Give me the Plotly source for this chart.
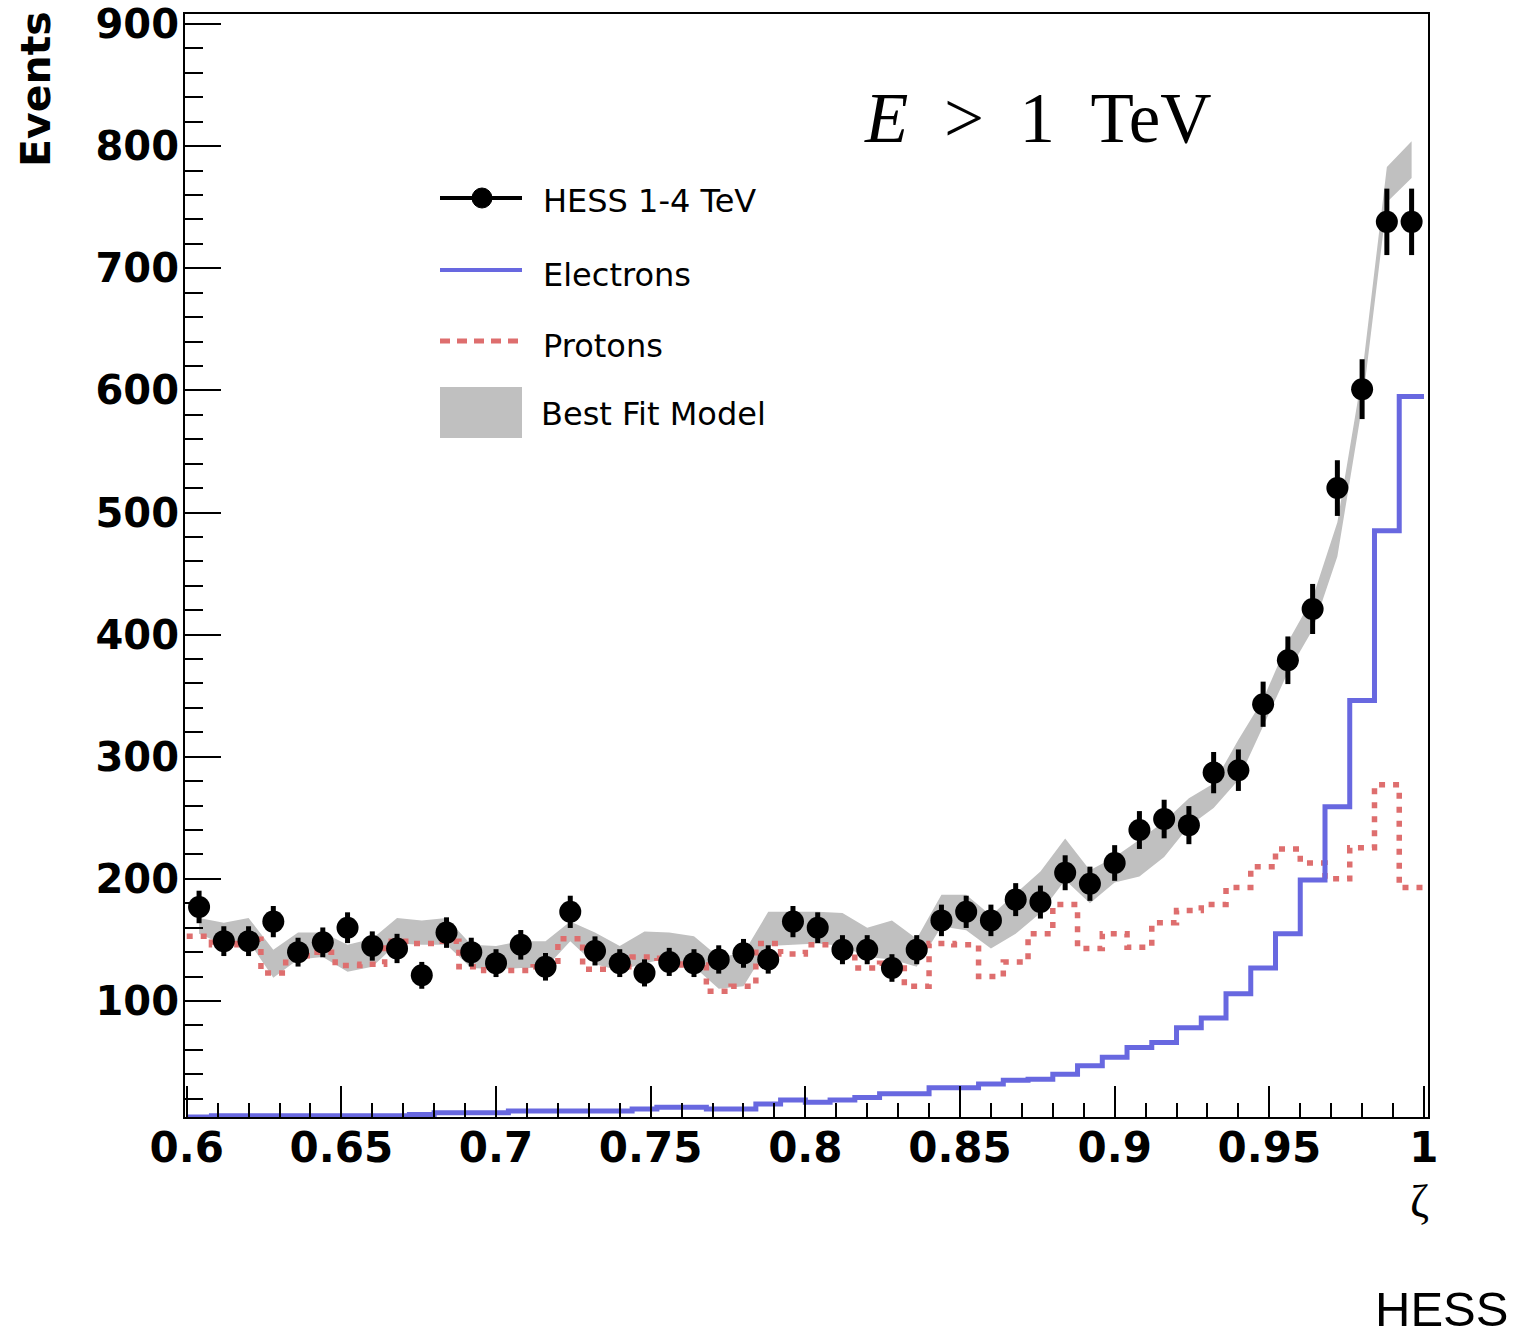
import plotly.graph_objects as go

# ---------------- data ----------------
zeta = [0.604, 0.612, 0.620, 0.628, 0.636, 0.644, 0.652, 0.660, 0.668, 0.676,
        0.684, 0.692, 0.700, 0.708, 0.716, 0.724, 0.732, 0.740, 0.748, 0.756,
        0.764, 0.772, 0.780, 0.788, 0.796, 0.804, 0.812, 0.820, 0.828, 0.836,
        0.844, 0.852, 0.860, 0.868, 0.876, 0.884, 0.892, 0.900, 0.908, 0.916,
        0.924, 0.932, 0.940, 0.948, 0.956, 0.964, 0.972, 0.980, 0.988, 0.996]

hess = [177, 149, 149, 165, 140, 148, 160, 145, 143, 121,
        156, 140, 131, 146, 128, 173, 141, 131, 123, 132,
        131, 134, 139, 134, 165, 160, 142, 142, 127, 142,
        166, 173, 166, 183, 181, 205, 196, 213, 240, 249,
        244, 287, 289, 343, 379, 421, 520, 601, 738, 738]

hess_err = [13.3, 12.2, 12.2, 12.8, 11.8, 12.2, 12.6, 12.0, 12.0, 11.0,
            12.5, 11.8, 11.4, 12.1, 11.3, 13.2, 11.9, 11.4, 11.1, 11.5,
            11.4, 11.6, 11.8, 11.6, 12.8, 12.6, 11.9, 11.9, 11.3, 11.9,
            12.9, 13.2, 12.9, 13.5, 13.5, 14.3, 14.0, 14.6, 15.5, 15.8,
            15.6, 16.9, 17.0, 18.5, 19.5, 20.5, 22.8, 24.5, 27.2, 27.2]

electrons = [5, 6, 6, 6, 6, 6, 6, 6, 6, 7,
             8.5, 8.5, 8.5, 10, 10, 10, 10, 10, 11.6, 13,
             13, 11.6, 11.6, 15.7, 19, 17, 19, 21, 24, 24,
             29, 29, 32, 35, 36, 40, 47, 54, 62, 66,
             78, 86, 106, 127, 155, 199, 259, 346, 485, 595]

protons = [153, 146, 150.5, 123, 137, 140, 129, 130, 149, 147,
           149, 128, 125, 125, 128, 151, 126, 128, 136, 135,
           129.5, 108, 112, 147, 138.5, 146, 143, 127, 131, 112,
           147, 146, 120, 132, 155, 179, 143, 155, 144, 164,
           174, 179, 193, 210, 224.5, 213, 200, 225.5, 277, 193]

model_hi = [168, 164, 168, 142, 156, 156, 146, 151, 168, 166,
            168, 146, 145, 149, 149, 165, 156, 145, 157, 156,
            153, 136, 139, 173, 173, 173, 172, 160, 166, 151,
            187, 187, 170, 188, 206, 233, 207, 218, 232, 247,
            266, 278, 314, 347, 394, 430, 492, 613, 783, 804]

model_lo = [155, 146, 149, 119, 134, 136, 124, 128, 147, 146,
            146, 127, 126, 127, 127, 149, 130, 125, 131, 135,
            128, 110, 112, 145, 146, 147, 145, 136, 134, 128,
            161, 158, 143, 155, 172, 199, 180, 197, 202, 218,
            243, 258, 281, 325, 369, 404, 464, 587, 754, 774]

x_ticks = [0.6, 0.65, 0.7, 0.75, 0.8, 0.85, 0.9, 0.95, 1.0]
x_tick_text = ["0.6", "0.65", "0.7", "0.75", "0.8", "0.85", "0.9", "0.95", "1"]
y_ticks = [100, 200, 300, 400, 500, 600, 700, 800, 900]

half_bin = (zeta[1] - zeta[0]) / 2
edges = [round(z - half_bin, 4) for z in zeta] + [round(zeta[-1] + half_bin, 4)]

# ---------------- styling ----------------
W, H = 1519, 1343
ML, MR, MT, MB = 185, 91, 14, 226
GRAY = "#c0c0c0"
RED = "#de6e6e"
BLUE = "#6868e0"
BOLD = "DejaVu Sans"


def px(xp):
    return (xp - ML) / (W - ML - MR)


def py(yp):
    return (H - MB - yp) / (H - MT - MB)


fig = go.Figure()

fig.add_trace(go.Scatter(x=zeta, y=model_lo, mode="lines",
                         line=dict(width=0, color=GRAY),
                         showlegend=False, hoverinfo="skip"))
fig.add_trace(go.Scatter(x=zeta, y=model_hi, mode="lines",
                         line=dict(width=0, color=GRAY),
                         fill="tonexty", fillcolor=GRAY,
                         name="Best Fit Model", showlegend=False))
fig.add_trace(go.Scatter(x=edges, y=protons + [protons[-1]], mode="lines",
                         line=dict(shape="hv", color=RED, width=5.5, dash="6px,8px"),
                         name="Protons", showlegend=False))
fig.add_trace(go.Scatter(x=edges, y=electrons + [electrons[-1]], mode="lines",
                         line=dict(shape="hv", color=BLUE, width=5),
                         name="Electrons", showlegend=False))
fig.add_trace(go.Scatter(x=zeta, y=hess, mode="markers",
                         marker=dict(size=22, color="black", symbol="circle"),
                         error_y=dict(type="data", array=hess_err, thickness=5,
                                      width=0, color="black"),
                         name="HESS 1-4 TeV", showlegend=False))

# ---------------- manual legend ----------------
shapes = []
shapes.append(dict(type="line", xref="paper", yref="paper",
                   x0=px(440), x1=px(522), y0=py(198), y1=py(198),
                   line=dict(color="black", width=4)))
shapes.append(dict(type="circle", xref="paper", yref="paper",
                   x0=px(472), x1=px(492), y0=py(208), y1=py(188),
                   fillcolor="black", line=dict(color="black", width=1)))
shapes.append(dict(type="line", xref="paper", yref="paper",
                   x0=px(440), x1=px(522), y0=py(270), y1=py(270),
                   line=dict(color=BLUE, width=4)))
shapes.append(dict(type="line", xref="paper", yref="paper",
                   x0=px(440), x1=px(522), y0=py(341), y1=py(341),
                   line=dict(color=RED, width=5, dash="10px,7px")))
shapes.append(dict(type="rect", xref="paper", yref="paper",
                   x0=px(440), x1=px(522), y0=py(438), y1=py(387),
                   fillcolor=GRAY, line=dict(width=0)))

annotations = []
leg_font = dict(family="DejaVu Sans", size=32, color="black")
for txt, xx, yy in [("HESS 1-4 TeV", 541, 201), ("Electrons", 541, 275),
                    ("Protons", 541, 346), ("Best Fit Model", 539, 414)]:
    annotations.append(dict(text=txt, xref="paper", yref="paper", x=px(xx), y=py(yy),
                            xanchor="left", yanchor="middle", showarrow=False,
                            font=leg_font))

annotations.append(dict(
    text="<i>E</i>\u00a0\u00a0>\u00a0\u00a01\u00a0\u00a0TeV",
    xref="paper", yref="paper", x=px(1038), y=py(118),
    xanchor="center", yanchor="middle", showarrow=False,
    font=dict(family="Liberation Serif", size=71, color="black")))

annotations.append(dict(
    text="Events", xref="paper", yref="paper", x=px(36), y=py(89),
    xanchor="center", yanchor="middle", textangle=-90, showarrow=False,
    font=dict(family=BOLD, size=41, color="black", weight="bold")))

annotations.append(dict(
    text="ζ", xref="paper", yref="paper", x=px(1419), y=py(1201),
    xanchor="center", yanchor="middle", showarrow=False,
    font=dict(family="Liberation Serif", size=46, color="black")))

annotations.append(dict(
    text="HESS", xref="paper", yref="paper", x=px(1373), y=py(1309),
    xanchor="left", yanchor="middle", showarrow=False,
    font=dict(family="Liberation Sans", size=49, color="black")))

fig.update_layout(
    width=W, height=H,
    margin=dict(l=ML, r=MR, t=MT, b=MB, pad=0, autoexpand=False),
    paper_bgcolor="white", plot_bgcolor="white",
    showlegend=False,
    shapes=shapes, annotations=annotations,
    xaxis=dict(range=[0.59945, 1.0013], tickmode="array", tickvals=x_ticks,
               ticktext=x_tick_text, automargin=False,
               ticks="inside", ticklen=31, tickwidth=2, tickcolor="black",
               showline=True, linewidth=2, linecolor="black", mirror=True,
               showgrid=False, zeroline=False,
               tickfont=dict(family=BOLD, size=42, color="black", weight="bold"),
               ticklabelstandoff=-7,
               minor=dict(ticks="inside", ticklen=14, tickwidth=2, tickcolor="black",
                          tick0=0.6, dtick=0.01, showgrid=False)),
    yaxis=dict(range=[5, 908.2], tickmode="array", tickvals=y_ticks,
               automargin=False,
               ticks="inside", ticklen=36, tickwidth=2, tickcolor="black",
               showline=True, linewidth=2, linecolor="black", mirror=True,
               showgrid=False, zeroline=False,
               tickfont=dict(family=BOLD, size=40, color="black", weight="bold"),
               ticklabelstandoff=-4,
               minor=dict(ticks="inside", ticklen=18, tickwidth=2, tickcolor="black",
                          tick0=0, dtick=20, showgrid=False)),
)

fig.write_html("out.html")
